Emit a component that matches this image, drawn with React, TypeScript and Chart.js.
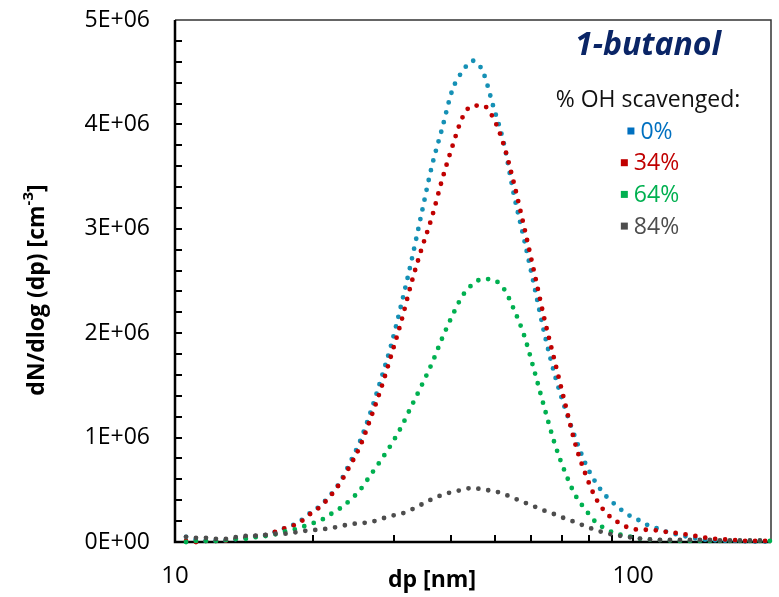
import React, { useEffect, useRef } from 'react';
import { Chart, registerables } from 'chart.js';

Chart.register(...registerables);

// particle diameters (nm)
const diameters = [
  10.57, 11.13, 11.72, 12.34, 12.99, 13.68, 14.4, 15.16, 15.96, 16.8,
  17.69, 18.63, 19.61, 20.65, 21.74, 22.89, 24.1, 25.37, 26.71, 28.12,
  29.61, 31.17, 32.81, 34.55, 36.37, 38.29, 40.32, 42.45, 44.69, 47.05,
  49.54, 52.15, 54.91, 57.81, 60.86, 64.08, 67.46, 71.02, 74.77, 78.72,
  82.88, 87.26, 91.87, 96.72, 101.8, 107.2, 112.9, 118.9, 125.1, 131.7,
  138.7, 146.0, 153.8, 161.9, 170.4, 179.4, 188.9, 198.9,
];

// dN/dlog(dp) in units of 1E+06 cm-3
const oh0 = [
  0.05, 0.02, 0.01, 0.01, 0.015, 0.03, 0.045, 0.06, 0.07, 0.11,
  0.145, 0.19, 0.27, 0.34, 0.44, 0.57, 0.76, 0.97, 1.24, 1.55,
  1.88, 2.27, 2.69, 3.15, 3.6, 3.96, 4.33, 4.51, 4.61, 4.5,
  4.17, 3.83, 3.33, 2.9, 2.45, 1.99, 1.6, 1.28, 1.0, 0.75,
  0.57, 0.44, 0.35, 0.27, 0.22, 0.165, 0.13, 0.095, 0.07, 0.05,
  0.03, 0.02, 0.015, 0.01, 0.01, 0.005, 0.005, 0.005,
];
const oh34 = [
  0.01, 0.0, 0.01, 0.01, 0.015, 0.035, 0.045, 0.06, 0.07, 0.11,
  0.145, 0.18, 0.26, 0.33, 0.43, 0.56, 0.73, 0.92, 1.18, 1.46,
  1.78, 2.11, 2.48, 2.81, 3.11, 3.47, 3.79, 4.07, 4.18, 4.18,
  4.06, 3.81, 3.44, 3.02, 2.58, 2.13, 1.73, 1.33, 0.94, 0.65,
  0.42, 0.28, 0.2, 0.145, 0.12, 0.117, 0.11, 0.095, 0.085, 0.07,
  0.053, 0.037, 0.028, 0.022, 0.015, 0.01, 0.01, 0.01,
];
const oh64 = [
  0.0, 0.01, 0.01, 0.01, 0.02, 0.03, 0.03, 0.05, 0.06, 0.08,
  0.11, 0.13, 0.17, 0.2, 0.26, 0.32, 0.4, 0.5, 0.64, 0.78,
  0.93, 1.1, 1.3, 1.5, 1.71, 1.95, 2.17, 2.36, 2.47, 2.52,
  2.51, 2.43, 2.23, 1.98, 1.64, 1.28, 0.94, 0.67, 0.45, 0.31,
  0.19, 0.125, 0.08, 0.06, 0.035, 0.025, 0.02, 0.015, 0.01, 0.01,
  0.01, 0.01, 0.01, 0.01, 0.01, 0.01, 0.01, 0.01,
];
const oh84 = [
  0.05, 0.04, 0.04, 0.03, 0.03, 0.05, 0.06, 0.06, 0.07, 0.08,
  0.08, 0.1, 0.11, 0.12, 0.13, 0.15, 0.17, 0.18, 0.19, 0.22,
  0.25, 0.27, 0.31, 0.36, 0.41, 0.45, 0.48, 0.5, 0.52, 0.5,
  0.49, 0.46, 0.42, 0.38, 0.34, 0.3, 0.265, 0.225, 0.19, 0.15,
  0.115, 0.085, 0.066, 0.05, 0.036, 0.027, 0.02, 0.02, 0.02, 0.02,
  0.02, 0.02, 0.015, 0.015, 0.015, 0.015, 0.015, 0.015,
];

const UNIT = 1e6;
const seriesLabels = ['0%', '34%', '64%', '84%'];
const seriesValues = [oh0, oh34, oh64, oh84];
const lineColors = ['#1590b5', '#c00000', '#00b050', '#4d4d4d'];
const legendColors = ['#0070c0', '#c00000', '#00b050', '#4d4d4d'];

const xMin = 10;
const xMax = 200;
const xLabelValues = [10, 100];
const xTickMarks = [20, 30, 40, 50, 60, 70, 80, 90, 100];
const yMin = 0;
const yMax = 5e6;
const yMajorStep = 1e6;
const yMinorStep = 2e5;

const chartTitle = '1-butanol';
const legendTitle = '% OH scavenged:';
const xTitle = 'dp [nm]';
const yTitleMain = 'dN/dlog (dp) [cm';
const yTitleSup = '-3';
const yTitleEnd = ']';

const FONT = "'Open Sans', 'DejaVu Sans', sans-serif";

// plot-area box (pixels)
const AREA = { left: 175, top: 20, right: 771, bottom: 542 };

const decorPlugin = {
  id: 'decor',
  afterLayout(chart: any) {
    const a = chart.chartArea;
    a.left = AREA.left;
    a.top = AREA.top;
    a.right = AREA.right;
    a.bottom = AREA.bottom;
    a.width = AREA.right - AREA.left;
    a.height = AREA.bottom - AREA.top;
    const x = chart.scales.x;
    const y = chart.scales.y;
    x.left = AREA.left;
    x.right = AREA.right;
    x.width = AREA.right - AREA.left;
    x.top = AREA.bottom;
    x.bottom = chart.height;
    x.height = chart.height - AREA.bottom;
    x.configure();
    y.left = 0;
    y.right = AREA.left;
    y.width = AREA.left;
    y.top = AREA.top;
    y.bottom = AREA.bottom;
    y.height = AREA.bottom - AREA.top;
    y.configure();
  },
  beforeDatasetsDraw(chart: any) {
    const { ctx, chartArea: a, scales } = chart;
    const x = scales.x;
    const y = scales.y;
    ctx.save();
    // thin frame top/right
    ctx.strokeStyle = '#333333';
    ctx.lineWidth = 1.5;
    ctx.beginPath();
    ctx.moveTo(a.left, a.top);
    ctx.lineTo(a.right, a.top);
    ctx.lineTo(a.right, a.bottom);
    ctx.stroke();
    // axes
    ctx.strokeStyle = '#000000';
    ctx.lineWidth = 2.5;
    ctx.beginPath();
    ctx.moveTo(a.left, a.top);
    ctx.lineTo(a.left, a.bottom);
    ctx.lineTo(a.right, a.bottom);
    ctx.stroke();
    // y tick marks (inside)
    ctx.lineWidth = 2;
    ctx.beginPath();
    const n = Math.round((yMax - yMin) / yMinorStep);
    for (let k = 1; k < n; k++) {
      const py = Math.round(y.getPixelForValue(yMin + k * yMinorStep));
      ctx.moveTo(a.left, py);
      ctx.lineTo(a.left + 7, py);
    }
    // x tick marks (inside)
    for (const v of xTickMarks) {
      const px = Math.round(x.getPixelForValue(v));
      ctx.moveTo(px, a.bottom);
      ctx.lineTo(px, a.bottom - 7);
    }
    ctx.stroke();
    ctx.restore();
  },
  afterDraw(chart: any) {
    const { ctx, chartArea: a } = chart;
    ctx.save();
    const cx = a.right - 123;
    // title
    ctx.textAlign = 'center';
    ctx.textBaseline = 'middle';
    ctx.fillStyle = '#0a2566';
    ctx.font = `italic bold 32px ${FONT}`;
    ctx.fillText(chartTitle, cx, a.top + 26);
    // legend title
    ctx.fillStyle = '#111111';
    ctx.font = `23px ${FONT}`;
    ctx.fillText(legendTitle, cx, a.top + 80);
    // legend entries
    ctx.textAlign = 'left';
    const datasets = chart.data.datasets;
    datasets.forEach((ds: any, i: number) => {
      const yy = a.top + 111 + i * 31.7;
      const tw = ctx.measureText(ds.label).width;
      const total = 7 + 6 + tw;
      const start = cx + 2 - total / 2;
      ctx.fillStyle = legendColors[i];
      ctx.fillRect(start, yy - 3.5, 7, 7);
      ctx.fillText(ds.label, start + 13, yy + 1);
    });
    // x title
    ctx.fillStyle = '#000000';
    ctx.textAlign = 'center';
    ctx.font = `bold 23px ${FONT}`;
    ctx.fillText(xTitle, 432, 580);
    // y title (rotated) with superscript
    ctx.translate(37, 290);
    ctx.rotate(-Math.PI / 2);
    ctx.textAlign = 'left';
    ctx.font = `bold 23px ${FONT}`;
    const w1 = ctx.measureText(yTitleMain).width;
    const w3 = ctx.measureText(yTitleEnd).width;
    ctx.font = `bold 15px ${FONT}`;
    const w2 = ctx.measureText(yTitleSup).width;
    const sx = -(w1 + w2 + w3) / 2;
    ctx.font = `bold 23px ${FONT}`;
    ctx.fillText(yTitleMain, sx, 0);
    ctx.font = `bold 15px ${FONT}`;
    ctx.fillText(yTitleSup, sx + w1, -8);
    ctx.font = `bold 23px ${FONT}`;
    ctx.fillText(yTitleEnd, sx + w1 + w2, 0);
    ctx.restore();
  },
};

export default function App() {
  const canvasRef = useRef<HTMLCanvasElement | null>(null);

  useEffect(() => {
    const canvas = canvasRef.current;
    if (!canvas) return;
    const orders = [4, 3, 2, 1];
    const chart = new Chart(canvas, {
      type: 'line',
      data: {
        datasets: seriesValues.map((vals, i) => ({
          label: seriesLabels[i],
          data: diameters.map((d, j) => ({ x: d, y: vals[j] * UNIT })),
          borderColor: lineColors[i],
          backgroundColor: lineColors[i],
          borderWidth: 4.8,
          borderDash: [0, 10],
          borderCapStyle: 'round',
          pointRadius: 0,
          pointHoverRadius: 0,
          fill: false,
          cubicInterpolationMode: 'monotone',
          clip: false,
          order: orders[i],
        })),
      },
      options: {
        responsive: false,
        animation: false,
        devicePixelRatio: 1,
        events: [],
        layout: { padding: { left: 0, right: 8, top: 20, bottom: 0 } },
        plugins: {
          legend: { display: false },
          title: { display: false },
          tooltip: { enabled: false },
        },
        scales: {
          x: {
            type: 'logarithmic',
            min: xMin,
            max: xMax,
            grid: { display: false, drawTicks: false },
            border: { display: false },
            afterFit: (scale: any) => {
              scale.height = 55;
            },
            ticks: {
              autoSkip: false,
              maxRotation: 0,
              minRotation: 0,
              padding: 20,
              color: '#000000',
              font: { family: FONT, size: 24 },
              callback: (value: any) =>
                xLabelValues.includes(Number(value)) ? String(value) : '',
            },
          },
          y: {
            type: 'linear',
            min: yMin,
            max: yMax,
            grid: { display: false, drawTicks: false },
            border: { display: false },
            afterFit: (scale: any) => {
              scale.width = 175;
            },
            ticks: {
              stepSize: yMajorStep,
              padding: 25,
              color: '#000000',
              font: { family: FONT, size: 23 },
              callback: (value: any) => {
                const v = Number(value);
                if (v === 0) return '0E+00';
                return `${Math.round(v / 1e6)}E+06`;
              },
            },
          },
        },
      },
      plugins: [decorPlugin],
    } as any);
    return () => chart.destroy();
  }, []);

  return (
    <div style={{ position: 'fixed', left: 0, top: 0, width: 779, height: 597, background: '#ffffff' }}>
      <canvas ref={canvasRef} width={779} height={597} style={{ display: 'block' }} />
    </div>
  );
}
